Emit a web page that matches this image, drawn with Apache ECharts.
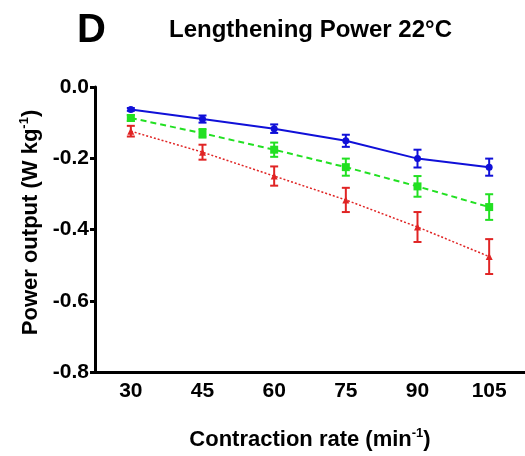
<!DOCTYPE html>
<html>
<head>
<meta charset="utf-8">
<script src="https://cdn.jsdelivr.net/npm/echarts@6/dist/echarts.min.js"></script>
<style>
  html, body { margin: 0; padding: 0; background: #fff; }
</style>
</head>
<body>
<div id="myChart" style="width:525px;height:456px;"></div>
<script>
// contraction rates (min^-1)
var rates = ['30', '45', '60', '75', '90', '105'];
var yTicks = [0, -0.2, -0.4, -0.6, -0.8];

// power output (W kg^-1), mean and error
var blueMean = [-0.063, -0.090, -0.117, -0.151, -0.201, -0.225];
var blueErr = [0.004, 0.010, 0.012, 0.017, 0.025, 0.024];
var greenMean = [-0.087, -0.130, -0.176, -0.225, -0.279, -0.337];
var greenErr = [0.008, 0.012, 0.020, 0.024, 0.029, 0.036];
var redMean = [-0.124, -0.183, -0.250, -0.317, -0.393, -0.476];
var redErr = [0.015, 0.021, 0.027, 0.034, 0.042, 0.049];

var font = 'Liberation Sans, Arial, sans-serif';

function errData(mean, err) {
  return mean.map(function (m, i) {
    return [i, m - err[i], m + err[i]];
  });
}

function errSeries(mean, err, color) {
  return {
    type: 'custom',
    data: errData(mean, err),
    z: 3,
    renderItem: function (params, api) {
      var lo = api.coord([api.value(0), api.value(1)]);
      var hi = api.coord([api.value(0), api.value(2)]);
      var w = 4;
      var st = { stroke: color, lineWidth: 2 };
      return {
        type: 'group',
        children: [
          { type: 'line', shape: { x1: hi[0], y1: hi[1], x2: lo[0], y2: lo[1] }, style: st },
          { type: 'line', shape: { x1: hi[0] - w, y1: hi[1], x2: hi[0] + w, y2: hi[1] }, style: st },
          { type: 'line', shape: { x1: lo[0] - w, y1: lo[1], x2: lo[0] + w, y2: lo[1] }, style: st }
        ]
      };
    }
  };
}

var nameRich = {
  n: { fontFamily: font, fontSize: 22, fontWeight: 'bold', color: '#000' },
  s: { fontFamily: font, fontSize: 13, fontWeight: 'bold', color: '#000', padding: [0, 0, 12, 0] }
};

var myChart = echarts.init(document.getElementById('myChart'));
myChart.setOption({
  animation: false,
  backgroundColor: '#fff',
  title: [
    {
      text: 'D',
      left: 72,
      top: 6,
      textStyle: { fontFamily: font, fontSize: 40, fontWeight: 'bold', color: '#000' }
    },
    {
      text: 'Lengthening Power 22°C',
      left: 164,
      top: 13,
      textStyle: { fontFamily: font, fontSize: 24, fontWeight: 'bold', color: '#000' }
    }
  ],
  grid: {
    left: 95,
    right: 0,
    top: 87,
    bottom: 84
  },
  xAxis: {
    type: 'category',
    data: rates,
    boundaryGap: true,
    name: '{n|Contraction rate (min}{s|-1}{n|)}',
    nameLocation: 'middle',
    nameGap: 55,
    nameTextStyle: { rich: nameRich },
    axisLine: { onZero: false, lineStyle: { color: '#000', width: 3 } },
    axisTick: { alignWithLabel: true, length: 5, lineStyle: { color: '#000', width: 3 } },
    axisLabel: { fontFamily: font, fontSize: 21, fontWeight: 'bold', color: '#000', margin: 9 },
    splitLine: { show: false }
  },
  yAxis: {
    type: 'value',
    min: -0.8,
    max: 0,
    interval: 0.2,
    name: '{n|Power output (W kg}{s|-1}{n|)}',
    nameLocation: 'middle',
    nameGap: 52,
    nameTextStyle: { rich: nameRich, padding: [0, 0, 0, 14] },
    axisLine: { show: true, lineStyle: { color: '#000', width: 3 } },
    axisTick: { show: true, length: 5, lineStyle: { color: '#000', width: 3 } },
    axisLabel: {
      fontFamily: font,
      fontSize: 21,
      fontWeight: 'bold',
      color: '#000',
      margin: 6,
      formatter: function (v) { return v.toFixed(1); }
    },
    splitLine: { show: false }
  },
  series: [
    {
      name: 'blue',
      type: 'line',
      data: blueMean,
      symbol: 'circle',
      symbolSize: 7,
      itemStyle: { color: '#1010d8' },
      lineStyle: { color: '#1010d8', width: 2, type: 'solid' },
      z: 4
    },
    {
      name: 'green',
      type: 'line',
      data: greenMean,
      symbol: 'rect',
      symbolSize: 8,
      itemStyle: { color: '#22e022' },
      lineStyle: { color: '#22e022', width: 2, type: [6, 4] },
      z: 4
    },
    {
      name: 'red',
      type: 'line',
      data: redMean,
      symbol: 'triangle',
      symbolSize: 7,
      itemStyle: { color: '#e02424' },
      lineStyle: { color: '#e02424', width: 1.5, type: [2, 2] },
      z: 4
    },
    errSeries(blueMean, blueErr, '#1010d8'),
    errSeries(greenMean, greenErr, '#22e022'),
    errSeries(redMean, redErr, '#e02424')
  ]
});
</script>
</body>
</html>
